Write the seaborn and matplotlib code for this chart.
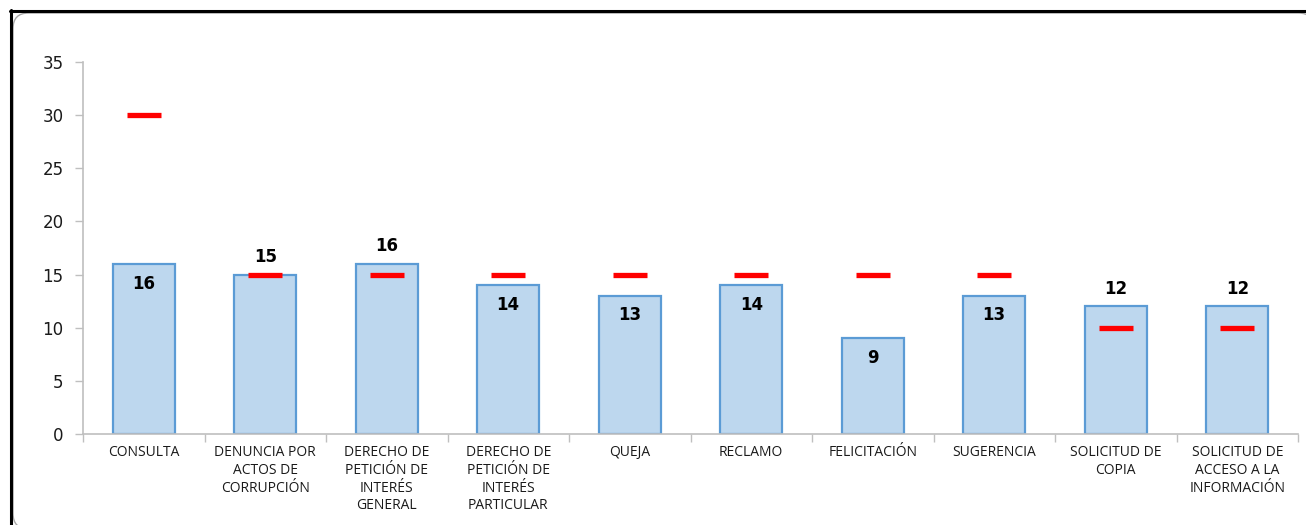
import matplotlib
matplotlib.use("Agg")
import matplotlib.pyplot as plt
from matplotlib.patches import FancyBboxPatch
from matplotlib.lines import Line2D
import numpy as np
import pandas as pd
import seaborn as sns

categories = [
    "CONSULTA",
    "DENUNCIA POR\nACTOS DE\nCORRUPCIÓN",
    "DERECHO DE\nPETICIÓN DE\nINTERÉS\nGENERAL",
    "DERECHO DE\nPETICIÓN DE\nINTERÉS\nPARTICULAR",
    "QUEJA",
    "RECLAMO",
    "FELICITACIÓN",
    "SUGERENCIA",
    "SOLICITUD DE\nCOPIA",
    "SOLICITUD DE\nACCESO A LA\nINFORMACIÓN",
]
dias_promedio = [16, 15, 16, 14, 13, 14, 9, 13, 12, 12]
dias_limite = [30, 15, 15, 15, 15, 15, 15, 15, 10, 10]
y_ticks = [0, 5, 10, 15, 20, 25, 30, 35]

df = pd.DataFrame({"tipo": categories, "promedio": dias_promedio, "limite": dias_limite})

sns.set_theme(style="white")
plt.rcParams["font.family"] = ["DejaVu Sans"]

W, H = 1306, 525
fig = plt.figure(figsize=(W / 100, H / 100), dpi=100)
fig.patch.set_facecolor("white")

# outer frame: black top/left edges and a rounded grey panel
fig.add_artist(Line2D([10 / W, 1], [1 - 11 / H, 1 - 11 / H], transform=fig.transFigure,
                      color="black", lw=2.2))
fig.add_artist(Line2D([11 / W, 11 / W], [0, 1 - 10 / H], transform=fig.transFigure,
                      color="black", lw=2.2))
panel = FancyBboxPatch((13 / W, -4 / H), (1314 - 13) / W, (H - 13 + 4) / H,
                       boxstyle="round,pad=0,rounding_size=0.012",
                       transform=fig.transFigure, facecolor="white",
                       edgecolor="#A6A6A6", lw=1.0, mutation_aspect=W / H, zorder=0)
fig.add_artist(panel)

ax = fig.add_axes([83 / W, 1 - 434 / H, (1298 - 83) / W, (434 - 62) / H])
ax.set_facecolor("none")

sns.barplot(data=df, x="tipo", y="promedio", ax=ax, width=0.51,
            color="#BDD7EE", edgecolor="#5B9BD5", linewidth=1.6,
            saturation=1, zorder=2)
sns.pointplot(data=df, x="tipo", y="limite", ax=ax, color="#FF0000",
              linestyle="none", marker="_", markersize=25,
              markeredgewidth=3.8, zorder=4)

for i, (v, lim) in enumerate(zip(dias_promedio, dias_limite)):
    if lim <= v:
        ax.text(i, v + 0.8, f"{v}", ha="center", va="bottom",
                fontsize=12, fontweight="bold", color="black", zorder=5)
    else:
        ax.text(i, v - 1.0, f"{v}", ha="center", va="top",
                fontsize=12, fontweight="bold", color="black", zorder=5)

ax.set_xlim(-0.5, len(categories) - 0.5)
ax.set_ylim(0, 35)
ax.set_yticks(y_ticks)
ax.set_yticklabels([str(t) for t in y_ticks], fontsize=12, color="#1A1A1A")
ax.set_xlabel("")
ax.set_ylabel("")

ax.set_xticks(range(len(categories)))
ax.set_xticklabels(categories, fontsize=10, color="#1A1A1A", linespacing=1.25,
                   family="Open Sans")
ax.set_xticks(np.arange(-0.5, len(categories), 1.0), minor=True)
ax.tick_params(axis="x", which="major", length=0, pad=8)
ax.tick_params(axis="x", which="minor", length=6, width=1, color="#BFBFBF",
               direction="out", bottom=True)
ax.tick_params(axis="y", length=6, width=1, color="#BFBFBF", direction="out",
               left=True, pad=8)

for side in ["top", "right"]:
    ax.spines[side].set_visible(False)
for side in ["left", "bottom"]:
    ax.spines[side].set_color("#BFBFBF")
    ax.spines[side].set_linewidth(1.2)
ax.grid(False)

fig.savefig("out.png", dpi=100, facecolor="white")
